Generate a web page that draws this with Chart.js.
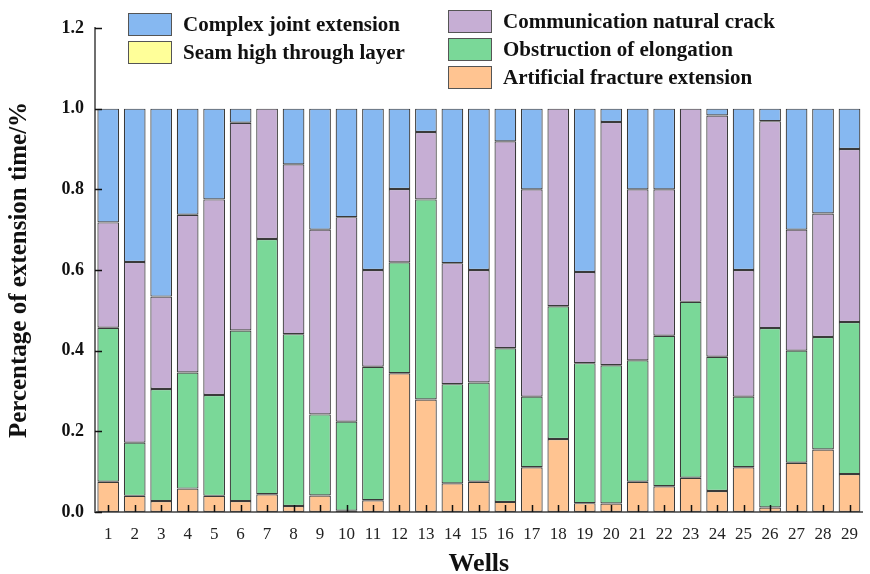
<!DOCTYPE html>
<html>
<head>
<meta charset="utf-8">
<script src="https://cdn.jsdelivr.net/npm/chart.js@4.4.1/dist/chart.umd.min.js"></script>
<style>
  html, body { margin: 0; padding: 0; background: #fff; }
  #wrap { width: 870px; height: 574px; }
</style>
</head>
<body>
<div id="wrap"><canvas id="c" width="870" height="574"></canvas></div>
<script>
// Wells on the x axis
const wells = ['1','2','3','4','5','6','7','8','9','10','11','12','13','14','15',
  '16','17','18','19','20','21','22','23','24','25','26','27','28','29'];

// Share of extension time per mechanism (stacked bottom to top)
const artificialFracture = [0.075,0.040,0.027,0.058,0.040,0.027,0.044,0.015,0.041,0.003,
  0.029,0.344,0.279,0.071,0.075,0.025,0.111,0.181,0.022,0.021,
  0.075,0.064,0.085,0.052,0.111,0.011,0.122,0.155,0.094];
const obstruction = [0.382,0.132,0.278,0.288,0.250,0.423,0.633,0.426,0.201,0.221,
  0.331,0.275,0.496,0.246,0.246,0.381,0.175,0.329,0.347,0.343,
  0.301,0.373,0.436,0.333,0.175,0.445,0.278,0.279,0.377];
const naturalCrack = [0.261,0.448,0.229,0.391,0.485,0.515,0.323,0.421,0.458,0.507,
  0.240,0.182,0.167,0.300,0.279,0.513,0.514,0.490,0.226,0.603,
  0.424,0.363,0.479,0.598,0.314,0.513,0.300,0.306,0.429];
const seamHigh = [0,0,0,0,0,0,0,0,0,0,0,0,0,0,0,0,0,0,0,0,0,0,0,0,0,0,0,0,0];
const complexJoint = [0.282,0.380,0.466,0.263,0.225,0.035,0,0.138,0.300,0.269,
  0.400,0.199,0.058,0.383,0.400,0.081,0.200,0,0.405,0.033,
  0.200,0.200,0,0.017,0.400,0.031,0.300,0.260,0.100];

// y axis ticks
const yTicks = [0, 0.2, 0.4, 0.6, 0.8, 1.0, 1.2];

const SERIF = '"Liberation Serif", "Times New Roman", serif';
const EDGE = '#3a3a3a';

function ds(label, data, color) {
  return { label, data, backgroundColor: color, borderColor: EDGE, borderWidth: 1.2,
           borderSkipped: false, categoryPercentage: 1.0, barPercentage: 0.82 };
}

// Two-column legend laid out above the plot
const legendLayout = {
  id: 'legendLayout',
  afterDraw(chart) {
    const ctx = chart.ctx;
    const pos = {
      'Complex joint extension': [128, 13],
      'Seam high through layer': [128, 41],
      'Communication natural crack': [448, 10],
      'Obstruction of elongation': [448, 38],
      'Artificial fracture extension': [448, 66]
    };
    const bw = 44, bh = 23;
    ctx.save();
    ctx.font = 'bold 21px ' + SERIF;
    ctx.textBaseline = 'middle';
    ctx.textAlign = 'left';
    chart.data.datasets.forEach(d => {
      const p = pos[d.label];
      if (!p) return;
      ctx.fillStyle = d.backgroundColor;
      ctx.fillRect(p[0], p[1], bw, bh);
      ctx.strokeStyle = '#555';
      ctx.lineWidth = 1;
      ctx.strokeRect(p[0] + 0.5, p[1] + 0.5, bw - 1, bh - 1);
      ctx.fillStyle = '#111';
      ctx.fillText(d.label, p[0] + bw + 11, p[1] + bh / 2 + 1);
    });
    ctx.restore();
  }
};

// Short tick marks pointing into the plot
const innerTicks = {
  id: 'innerTicks',
  afterDatasetsDraw(chart) {
    const ctx = chart.ctx;
    const x = chart.scales.x, y = chart.scales.y;
    const area = chart.chartArea;
    ctx.save();
    ctx.strokeStyle = '#111';
    ctx.lineWidth = 1.5;
    ctx.beginPath();
    y.ticks.forEach((t, i) => {
      const py = Math.round(y.getPixelForTick(i)) + 0.5;
      ctx.moveTo(area.left, py);
      ctx.lineTo(area.left + 7, py);
    });
    x.ticks.forEach((t, i) => {
      const px = Math.round(x.getPixelForTick(i)) + 0.5;
      ctx.moveTo(px, area.bottom);
      ctx.lineTo(px, area.bottom - 7);
    });
    ctx.stroke();
    ctx.restore();
  }
};

new Chart(document.getElementById('c'), {
  type: 'bar',
  data: {
    labels: wells,
    datasets: [
      ds('Artificial fracture extension', artificialFracture, '#FFC491'),
      ds('Obstruction of elongation', obstruction, '#7AD898'),
      ds('Communication natural crack', naturalCrack, '#C6AED4'),
      ds('Seam high through layer', seamHigh, '#FFFF99'),
      ds('Complex joint extension', complexJoint, '#86B8F1')
    ]
  },
  options: {
    responsive: false,
    animation: false,
    layout: { padding: { top: 28, right: 0, left: 0, bottom: 0 } },
    plugins: { legend: { display: false }, tooltip: { enabled: false } },
    scales: {
      x: {
        stacked: true,
        grid: { display: false, drawTicks: false },
        border: { display: true, color: '#6f6f6f', width: 2 },
        ticks: { color: '#222', padding: 12, font: { family: SERIF, size: 17 } },
        title: { display: true, text: 'Wells', color: '#111',
                 font: { family: SERIF, size: 26, weight: 'bold', lineHeight: 1 },
                 padding: { top: 0, bottom: -3 } },
        afterFit(s) { s.height = 62; }
      },
      y: {
        stacked: true,
        min: 0, max: 1.2,
        afterBuildTicks(s) { s.ticks = yTicks.map(v => ({ value: v })); },
        grid: { display: false, drawTicks: false },
        border: { display: true, color: '#6f6f6f', width: 2 },
        ticks: { color: '#111', padding: 11, font: { family: SERIF, size: 18, weight: 'bold' },
                 callback: v => Number(v).toFixed(1) },
        title: { display: true, text: 'Percentage of extension time/%', color: '#111',
                 font: { family: SERIF, size: 25, weight: 'bold', lineHeight: 1 },
                 padding: { top: 7, bottom: 0 } },
        afterFit(s) { s.width = 95; }
      }
    }
  },
  plugins: [legendLayout, innerTicks]
});
</script>
</body>
</html>
